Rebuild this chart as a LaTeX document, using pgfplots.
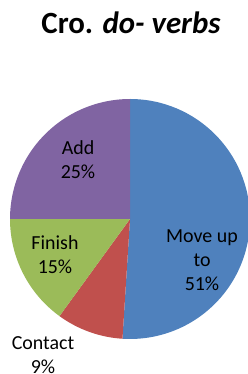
\documentclass[border=0pt]{standalone}
\usepackage{pgfplots}
\pgfplotsset{compat=1.18}
\usepackage{pgfplotstable}
\usepackage{fontspec}
\setmainfont{Carlito}
\definecolor{c0}{HTML}{4F81BD}
\definecolor{c1}{HTML}{C0504D}
\definecolor{c2}{HTML}{9BBB59}
\definecolor{c3}{HTML}{8064A2}
\pgfplotstableread{
label value
Moveup 51
Contact 9
Finish 15
Add 25
}\piedata
\begin{document}
\begin{tikzpicture}
\path[use as bounding box] (0,0) rectangle (248bp,374bp);
\begin{axis}[
  at={(0,0)}, anchor=south west,
  width=248bp, height=374bp, scale only axis,
  xmin=0, xmax=248, ymin=0, ymax=374,
  axis lines=none, clip=true,
]
\def\cum{90}
\pgfplotsforeachungrouped \i in {0,...,3}{%
  \pgfplotstablegetelem{\i}{value}\of\piedata
  \pgfmathsetmacro\endang{\cum-3.6*\pgfplotsretval}%
  \edef\temp{\noexpand\fill[c\i] (axis cs:130,155) -- ++(\cum:120bp) arc[start angle=\cum, end angle=\endang, radius=120bp] -- cycle;}%
  \temp
  \global\let\cum\endang
}
\node[font=\fontsize{31}{34}\selectfont\bfseries] at (axis cs:131,351) {Cro. \textit{do- verbs}};
\node[font=\fontsize{20}{24}\selectfont, align=center] at (axis cs:78,214) {Add\\25\%};
\node[font=\fontsize{20}{24}\selectfont, align=center] at (axis cs:55,119) {Finish\\15\%};
\node[font=\fontsize{20}{24}\selectfont, align=center] at (axis cs:202,114) {Move up\\to\\51\%};
\node[font=\fontsize{20}{24}\selectfont, align=center] at (axis cs:43,19) {Contact\\9\%};
\end{axis}
\end{tikzpicture}
\end{document}
